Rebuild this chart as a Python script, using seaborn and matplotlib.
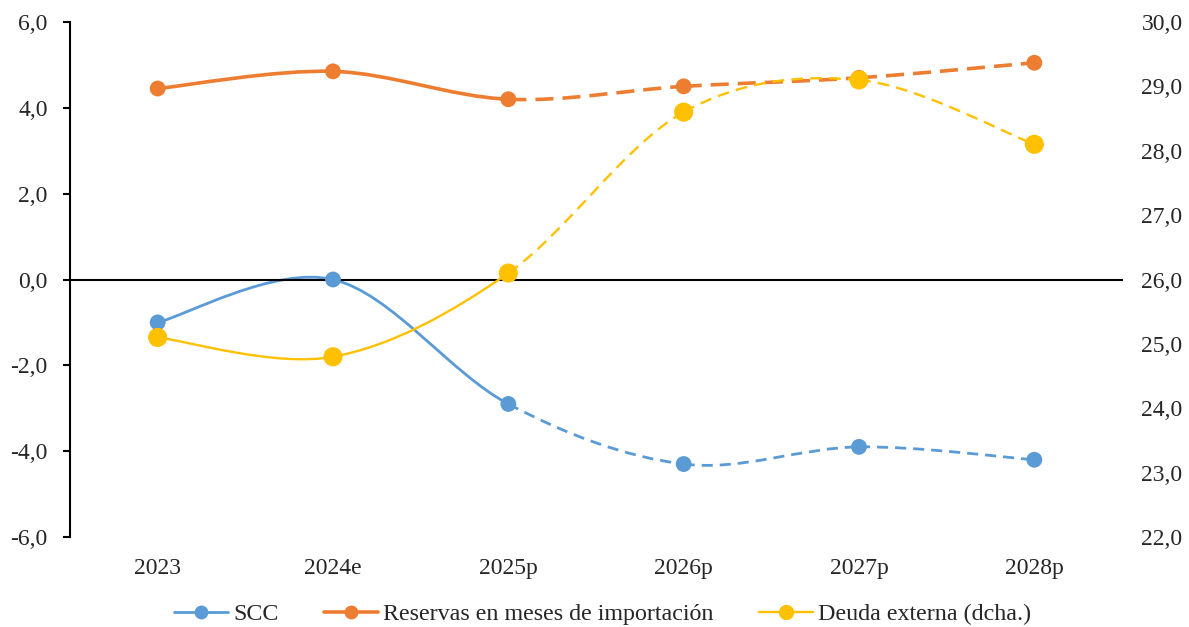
import numpy as np
import pandas as pd
import matplotlib
matplotlib.use("Agg")
import matplotlib.pyplot as plt
from matplotlib.path import Path
from matplotlib.patches import PathPatch
from matplotlib.lines import Line2D
from matplotlib.ticker import FuncFormatter
import seaborn as sns

# Data
years = ['2023', '2024e', '2025p', '2026p', '2027p', '2028p']
scc = [-1.0, 0.0, -2.9, -4.3, -3.9, -4.2]
reservas = [4.45, 4.85, 4.2, 4.5, 4.7, 5.05]
deuda = [25.1, 24.8, 26.1, 28.6, 29.1, 28.1]
last_actual = 2  # index of 2025p: solid up to here, dashed after

c_scc = '#5B9BD5'
c_res = '#ED7D31'
c_deu = '#FFC000'

sns.set_style('white')
plt.rcParams['font.family'] = ['Liberation Serif', 'DejaVu Serif']
fs = 17


def smooth_segments(xs, ys):
    # Excel-style smoothed line: Catmull-Rom converted to cubic Bezier pieces
    pts = np.column_stack([xs, ys]).astype(float)
    n = len(pts)
    segs = []
    for i in range(n - 1):
        p0 = pts[max(i - 1, 0)]
        p1 = pts[i]
        p2 = pts[i + 1]
        p3 = pts[min(i + 2, n - 1)]
        c1 = p1 + (p2 - p0) / 6
        c2 = p2 - (p3 - p1) / 6
        segs.append([p1, c1, c2, p2])
    return segs


def draw_smooth(ax, ys, color, lw, dash):
    xs = np.arange(len(ys))
    for i, seg in enumerate(smooth_segments(xs, ys)):
        path = Path(seg, [Path.MOVETO, Path.CURVE4, Path.CURVE4, Path.CURVE4])
        ls = '-' if i < last_actual else (0, dash)
        ax.add_patch(PathPatch(path, facecolor='none', edgecolor=color, lw=lw,
                               linestyle=ls, capstyle='butt', zorder=2))


fig, ax = plt.subplots(figsize=(11.89, 6.27), dpi=100)
fig.subplots_adjust(left=70 / 1189, right=1122 / 1189, top=1 - 22 / 627, bottom=1 - 537 / 627)
ax2 = ax.twinx()

df = pd.DataFrame({'x': np.arange(len(years)), 'scc': scc, 'res': reservas, 'deu': deuda})

draw_smooth(ax, scc, c_scc, 2.0, (4, 2.5))
draw_smooth(ax, reservas, c_res, 2.6, (5, 2.5))
draw_smooth(ax2, deuda, c_deu, 1.7, (5, 3))

sns.scatterplot(data=df, x='x', y='scc', ax=ax, color=c_scc, s=130, edgecolor='none', zorder=3)
sns.scatterplot(data=df, x='x', y='res', ax=ax, color=c_res, s=130, edgecolor='none', zorder=3)
sns.scatterplot(data=df, x='x', y='deu', ax=ax2, color=c_deu, s=190, edgecolor='none', zorder=3)

ax.set_xlim(-0.5, 5.5)
ax.set_ylim(-6, 6)
ax2.set_ylim(22, 30)
ax.set_yticks(np.arange(-6, 6.1, 2))
ax2.set_yticks(np.arange(22, 30.1, 1))
comma = FuncFormatter(lambda v, p: f'{v:.1f}'.replace('.', ','))
ax.yaxis.set_major_formatter(comma)
ax2.yaxis.set_major_formatter(comma)
ax.set_xlabel('')
ax.set_ylabel('')
ax2.set_ylabel('')

# category axis line sits at zero, ticks pointing up
for s in ['top', 'right']:
    ax.spines[s].set_visible(False)
for s in ['top', 'right', 'left', 'bottom']:
    ax2.spines[s].set_visible(False)
ax.spines['bottom'].set_position(('data', 0))
ax.spines['bottom'].set_linewidth(1.5)
ax.spines['left'].set_linewidth(1.5)
ax.spines['bottom'].set_color('black')
ax.spines['left'].set_color('black')
ax.set_xticks(list(range(len(years))) + [5.5])
ax.set_xticklabels([])
ax.tick_params(axis='x', direction='in', length=5, width=1.5, color='black')
ax.tick_params(axis='y', direction='out', length=5, width=1.5, color='black',
               left=True, labelsize=fs, pad=11)
ax2.tick_params(axis='y', length=0, labelsize=fs, pad=14)

sec = ax.secondary_xaxis(0)
sec.set_xticks(range(len(years)))
sec.set_xticklabels(years, fontsize=fs)
sec.tick_params(length=0, pad=15)
sec.spines['bottom'].set_visible(False)

handles = [
    Line2D([], [], color=c_scc, lw=2.0, marker='o', markersize=10, markeredgewidth=0),
    Line2D([], [], color=c_res, lw=2.6, marker='o', markersize=10, markeredgewidth=0),
    Line2D([], [], color=c_deu, lw=1.7, marker='o', markersize=11, markeredgewidth=0),
]
labels = ['SCC', 'Reservas en meses de importación', 'Deuda externa (dcha.)']
fig.legend(handles, labels, loc='center', bbox_to_anchor=(0.507, 1 - 614 / 627), ncol=3,
           frameon=False, fontsize=17.3, handlelength=2.25, handletextpad=0.2,
           columnspacing=1.9)

plt.savefig('out.png', dpi=100)
